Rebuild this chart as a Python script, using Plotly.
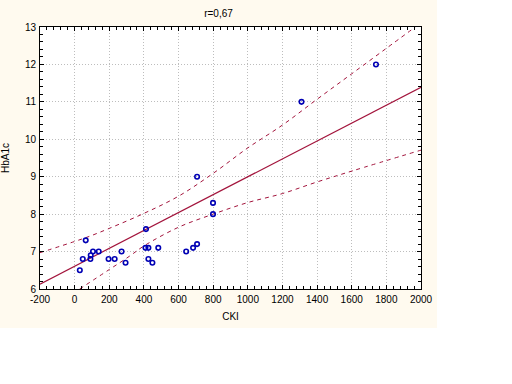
import plotly.graph_objects as go

# Scatter data (CKI vs HbA1c)
cki = [30, 47, 64, 91, 93, 106, 139, 196, 231, 271, 294, 412, 409, 426, 426,
       449, 483, 644, 684, 707, 707, 799, 799, 1310, 1740]
hba1c = [6.5, 6.8, 7.3, 6.8, 6.9, 7.0, 7.0, 6.8, 6.8, 7.0, 6.7, 7.6, 7.1, 7.1, 6.8,
         6.7, 7.1, 7.0, 7.1, 7.2, 9.0, 8.3, 8.0, 11.0, 12.0]

# Regression line
fit_x = [-200, 2000]
fit_y = [6.13, 11.39]

# Confidence band curves
upper_x = [-200, 0, 87, 200, 400, 600, 800, 1000, 1200, 1400, 1600, 1800, 1967]
upper_y = [6.97, 7.27, 7.41, 7.62, 8.02, 8.48, 9.09, 9.77, 10.38, 11.07, 11.75, 12.43, 13.0]
lower_x = [29, 200, 318, 400, 600, 800, 1000, 1200, 1400, 1607, 2000]
lower_y = [6.0, 6.52, 6.88, 7.15, 7.65, 8.0, 8.31, 8.55, 8.86, 9.16, 9.71]

x_ticks = list(range(-200, 2001, 200))
x_tick_labels = [str(v) for v in x_ticks]
y_ticks = list(range(6, 14))
y_tick_labels = [str(v) for v in y_ticks]

line_color = "#A3143C"
point_color = "#0000B4"
cream = "#FFFAEF"
font_family = "Liberation Sans Narrow, Arial Narrow, Liberation Sans, Arial, sans-serif"

fig = go.Figure()
fig.add_trace(go.Scatter(x=upper_x, y=upper_y, mode="lines", line_shape="spline",
                         line=dict(color=line_color, width=1, dash="4px,4px"),
                         hoverinfo="skip"))
fig.add_trace(go.Scatter(x=lower_x, y=lower_y, mode="lines", line_shape="spline",
                         line=dict(color=line_color, width=1, dash="4px,4px"),
                         hoverinfo="skip"))
fig.add_trace(go.Scatter(x=fit_x, y=fit_y, mode="lines",
                         line=dict(color=line_color, width=1.2)))
fig.add_trace(go.Scatter(x=cki, y=hba1c, mode="markers",
                         marker=dict(symbol="circle-open", size=4.5,
                                     line=dict(color=point_color, width=1.6),
                                     color=point_color)))

axis_common = dict(
    showline=True, linecolor="black", linewidth=1, mirror="ticks",
    ticks="inside", ticklen=4, tickcolor="black",
    showgrid=True, gridcolor="#BDBDBD", griddash="1px,2px", gridwidth=1,
    zeroline=False, automargin=False,
    tickfont=dict(family=font_family, size=10, color="black"),
)

fig.update_layout(
    width=512, height=384,
    margin=dict(l=40, r=91, t=27, b=95),
    paper_bgcolor="white", plot_bgcolor="white",
    showlegend=False,
    title=dict(text="r=0,67", x=218.5 / 512, xref="container", xanchor="center",
               y=1 - 13 / 384, yref="container", yanchor="middle",
               font=dict(family=font_family, size=10, color="black")),
    font=dict(family=font_family, size=10, color="black"),
    shapes=[
        dict(type="rect", xref="paper", yref="paper", x0=-0.11, x1=1.042,
             y0=-0.149, y1=1.11, fillcolor=cream, line=dict(width=0), layer="below"),
        dict(type="rect", xref="paper", yref="paper", x0=0, x1=1, y0=0, y1=1,
             fillcolor="white", line=dict(width=0), layer="below"),
    ],
)
fig.update_xaxes(range=[-200, 2000], tickvals=x_ticks, ticktext=x_tick_labels,
                 ticklabelstandoff=1, **axis_common,
                 minor=dict(ticks="inside", ticklen=3, dtick=40, tickcolor="black", showgrid=False),
                 title=dict(text="CKI", standoff=8,
                            font=dict(family=font_family, size=10, color="black")))
fig.update_yaxes(range=[6, 13], tickvals=y_ticks, ticktext=y_tick_labels,
                 ticklabelstandoff=1, **axis_common,
                 minor=dict(ticks="inside", ticklen=3, dtick=0.2, tickcolor="black", showgrid=False),
                 title=dict(text="HbA1c", standoff=15,
                            font=dict(family=font_family, size=10, color="black")))

fig.write_html("out.html", config={"displayModeBar": False},
               post_script="document.body.style.margin='0';")
